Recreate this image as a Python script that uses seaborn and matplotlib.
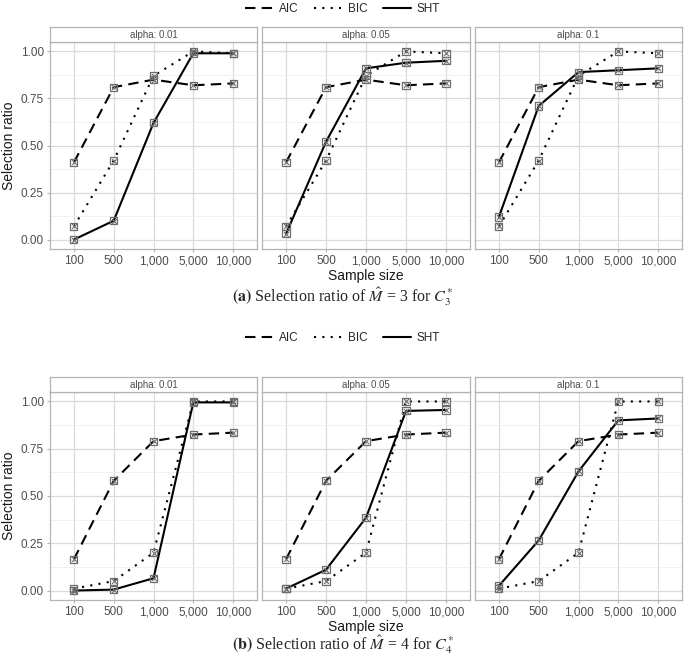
import matplotlib.pyplot as plt
import pandas as pd
import seaborn as sns

sizes = ['100', '500', '1,000', '5,000', '10,000']
alphas = ['0.01', '0.05', '0.1']
methods = ['AIC', 'BIC', 'SHT']

# (a) selection ratio of M = 3
aic_a = [0.41, 0.81, 0.85, 0.82, 0.83]
bic_a = [0.07, 0.42, 0.87, 1.00, 0.99]
sht_a_001 = [0.00, 0.10, 0.62, 0.99, 0.99]
sht_a_005 = [0.03, 0.52, 0.91, 0.94, 0.95]
sht_a_01 = [0.12, 0.71, 0.89, 0.90, 0.91]

# (b) selection ratio of M = 4
aic_b = [0.165, 0.58, 0.79, 0.825, 0.835]
bic_b = [0.01, 0.05, 0.20, 1.00, 1.00]
sht_b_001 = [0.00, 0.005, 0.065, 0.995, 0.995]
sht_b_005 = [0.01, 0.11, 0.385, 0.95, 0.955]
sht_b_01 = [0.025, 0.265, 0.63, 0.90, 0.91]


def build(aic, bic, sht_list):
    rows = []
    for a, sht in zip(alphas, sht_list):
        for m, vals in zip(methods, [aic, bic, sht]):
            for i, v in enumerate(vals):
                rows.append({'alpha': a, 'method': m, 'pos': i, 'ratio': v})
    return pd.DataFrame(rows)


df_a = build(aic_a, bic_a, [sht_a_001, sht_a_005, sht_a_01])
df_b = build(aic_b, bic_b, [sht_b_001, sht_b_005, sht_b_01])

sns.set_theme(style='white')
plt.rcParams['font.family'] = ['Liberation Sans', 'DejaVu Sans']
plt.rcParams['mathtext.fontset'] = 'stix'

W, H = 685, 657
fig = plt.figure(figsize=(W / 100, H / 100), dpi=100)

facet_x = [(50, 257), (262, 470), (475, 682)]
dashes = {'AIC': (5, 3), 'BIC': (1, 3), 'SHT': ''}
border = '#B3B3B3'
txt = '#4D4D4D'


def panel(df, plot_top, plot_bot, legend_y, caption, caption_y):
    handles = None
    for k, (x0, x1) in enumerate(facet_x):
        ax = fig.add_axes([x0 / W, 1 - plot_bot / H, (x1 - x0) / W, (plot_bot - plot_top) / H])
        sub = df[df.alpha == alphas[k]]
        sns.lineplot(data=sub, x='pos', y='ratio', style='method', style_order=methods,
                     dashes=dashes, color='black', linewidth=1.5, ax=ax, zorder=3)
        sns.scatterplot(data=sub, x='pos', y='ratio', marker='s', s=26, facecolor='none',
                        edgecolor='#6E6E6E', linewidth=0.9, ax=ax, zorder=4, legend=False)
        sns.scatterplot(data=sub, x='pos', y='ratio', marker='x', s=13, color='#6E6E6E',
                        linewidth=0.8, ax=ax, zorder=4, legend=False)
        if handles is None:
            handles, labels = ax.get_legend_handles_labels()
        ax.get_legend().remove()
        ax.set_xlim(-0.6, 4.6)
        ax.set_ylim(-0.05, 1.05)
        ax.set_xticks(range(5))
        ax.set_xticklabels(sizes)
        ax.set_yticks([0, 0.25, 0.5, 0.75, 1.0])
        ax.set_yticks([0.125, 0.375, 0.625, 0.875], minor=True)
        ax.grid(True, which='major', color='#DADADA', linewidth=0.9)
        ax.grid(True, which='minor', axis='y', color='#EFEFEF', linewidth=0.6)
        ax.set_axisbelow(True)
        for s in ax.spines.values():
            s.set_color(border)
            s.set_linewidth(0.9)
        ax.tick_params(axis='both', labelsize=8.5, length=2.5, width=0.8,
                       bottom=True, left=(k == 0), pad=2)
        ax.tick_params(axis='both', which='minor', length=0)
        ax.tick_params(axis='x', colors=border, labelcolor=txt)
        ax.tick_params(axis='y', colors=border, labelcolor=txt)
        if k == 0:
            ax.set_yticklabels(['0.00', '0.25', '0.50', '0.75', '1.00'])
            ax.set_ylabel('Selection ratio', fontsize=10, color='#1A1A1A', labelpad=3)
        else:
            ax.set_yticklabels([])
            ax.set_ylabel('')
        if k == 1:
            ax.set_xlabel('Sample size', fontsize=10, color='#1A1A1A', labelpad=1)
        else:
            ax.set_xlabel('')
        # facet strip
        st = fig.add_axes([x0 / W, 1 - plot_top / H, (x1 - x0) / W, 15 / H])
        st.set_xticks([])
        st.set_yticks([])
        for s in st.spines.values():
            s.set_color(border)
            s.set_linewidth(0.9)
        st.text(0.5, 0.5, 'alpha: ' + alphas[k], ha='center', va='center',
                fontsize=7, color=txt, transform=st.transAxes)
    fig.legend(handles, labels, loc='center', bbox_to_anchor=(0.5, 1 - legend_y / H),
               ncol=3, frameon=False, fontsize=8.5, handlelength=2.4, columnspacing=1.3,
               handletextpad=0.45)
    fig.text(0.5, 1 - caption_y / H, caption, ha='center', va='center',
             fontsize=11.5, family='Liberation Serif')


panel(df_a, 42, 249, 9, r'$\mathbf{(a)}$ Selection ratio of $\hat{M}$ = 3 for $C_3^{*}$', 297)
panel(df_b, 392, 600, 338, r'$\mathbf{(b)}$ Selection ratio of $\hat{M}$ = 4 for $C_4^{*}$', 645)

fig.savefig('out.png', dpi=100)
